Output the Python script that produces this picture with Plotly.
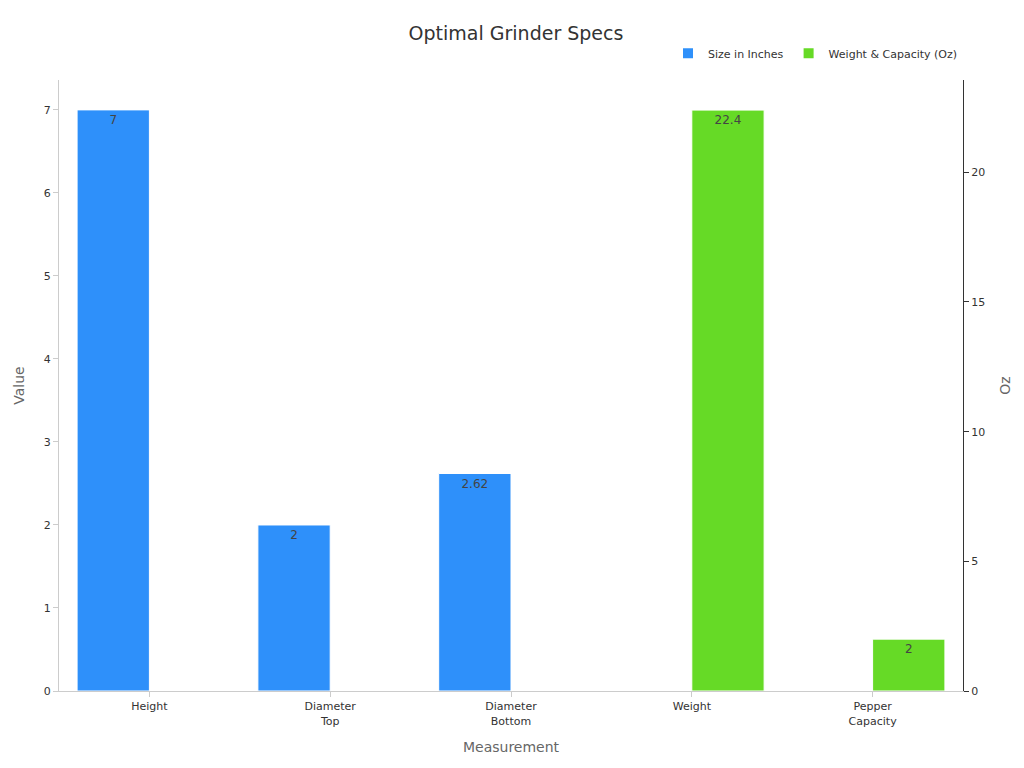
import plotly.graph_objects as go

size_cats = ["Height", "Diameter<br>Top", "Diameter<br>Bottom"]
size_vals = [7, 2, 2.62]
size_text = ["7", "2", "2.62"]
oz_cats = ["Weight", "Pepper<br>Capacity"]
oz_vals = [22.4, 2]
oz_text = ["22.4", "2"]

fig = go.Figure()
fig.add_trace(go.Bar(
    x=size_cats, y=size_vals, name="Size in Inches", text=size_text,
    textposition="inside", insidetextanchor="end",
    textfont=dict(color="#444", size=12),
    marker=dict(color="#2E90FA", line=dict(color="#ffffff", width=1)),
    offsetgroup="a", yaxis="y",
))
fig.add_trace(go.Bar(
    x=oz_cats, y=oz_vals, name="Weight & Capacity (Oz)", text=oz_text,
    textposition="inside", insidetextanchor="end",
    textfont=dict(color="#444", size=12),
    marker=dict(color="#66DA26", line=dict(color="#ffffff", width=1)),
    offsetgroup="b", yaxis="y2",
))

fig.update_layout(
    width=1016, height=760,
    font=dict(family="DejaVu Sans", color="#333", size=11),
    title=dict(text="Optimal Grinder Specs", x=0.5, xanchor="center",
               y=0.967, yanchor="middle", font=dict(size=19)),
    paper_bgcolor="white", plot_bgcolor="white",
    barmode="group", bargap=0.2, bargroupgap=0,
    margin=dict(l=51, r=61, t=72, b=77),
    legend=dict(orientation="h", x=1, xanchor="right", y=1.02, yanchor="bottom",
                font=dict(size=11), itemsizing="constant"),
    xaxis=dict(title=dict(text="Measurement", font=dict(color="#666", size=14)),
               categoryorder="array",
               categoryarray=size_cats + oz_cats,
               showline=True, linecolor="#ccc", ticks="outside", tickcolor="#ccc"),
    yaxis=dict(title=dict(text="Value", font=dict(color="#666", size=14)),
               range=[0, 7.36], dtick=1, showgrid=False, showline=True,
               linecolor="#ccc", ticks="outside", tickcolor="#ccc", zeroline=False),
    yaxis2=dict(title=dict(text="Oz", font=dict(color="#666", size=14)),
                overlaying="y", side="right", range=[0, 23.56], dtick=5,
                showgrid=False, showline=True, linecolor="#333",
                ticks="outside", tickcolor="#333", zeroline=False),
)
fig.write_html("out.html")
